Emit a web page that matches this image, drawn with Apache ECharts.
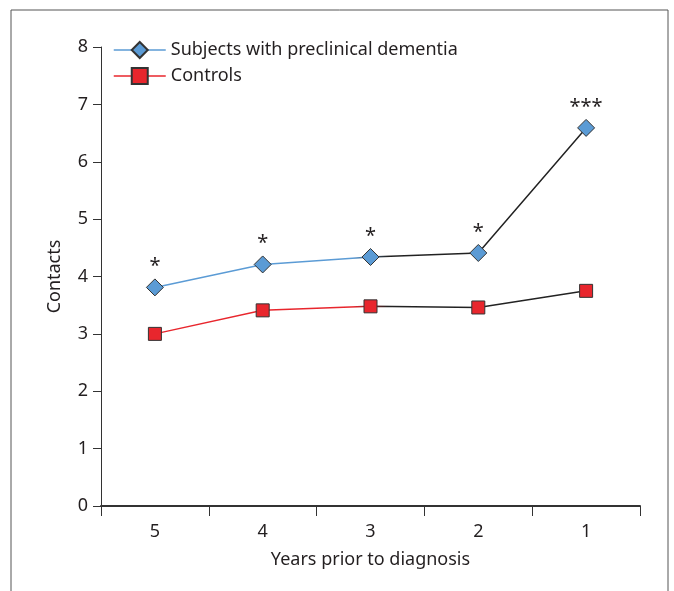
<!DOCTYPE html>
<html><head><meta charset="utf-8">
<script src="https://cdn.jsdelivr.net/npm/echarts@6/dist/echarts.min.js"></script>
<style>html,body{margin:0;padding:0;background:#fff}#c{width:674px;height:591px}</style>
</head><body><div id="c"></div>
<script>
const categories = ['5', '4', '3', '2', '1'];
const dementiaValues = [3.81, 4.21, 4.34, 4.41, 6.59];
const controlValues = [3.0, 3.41, 3.48, 3.46, 3.75];
const significance = ['*', '*', '*', '*', '***'];
const yTicks = [0, 1, 2, 3, 4, 5, 6, 7, 8];

const blue = '#5b9bd5', red = '#e8262d', ink = '#231f20';
function splitGrad(c) {
  return { type: 'linear', x: 0, y: 0, x2: 1, y2: 0, colorStops: [
    { offset: 0, color: c }, { offset: 0.46, color: c }, { offset: 0.54, color: '#222' }, { offset: 1, color: '#222' }] };
}
const font = 'Noto Sans';
const chart = echarts.init(document.getElementById('c'), null, { renderer: 'canvas' });
chart.setOption({
  animation: false,
  textStyle: { fontFamily: font, color: ink },
  graphic: [{ type: 'rect', shape: { x: 11, y: 10, width: 657, height: 620 }, style: { fill: null, stroke: '#555', lineWidth: 1 }, silent: true }],
  grid: { left: 101, right: 34, top: 47, bottom: 85 },
  legend: {
    orient: 'vertical', left: 108, top: 36, itemWidth: 52, itemHeight: 20, itemGap: 8,
    textStyle: { fontSize: 18, color: ink, fontFamily: font },
    data: [
      { name: 'Subjects with preclinical dementia', lineStyle: { color: blue, width: 1.5 } },
      { name: 'Controls', lineStyle: { color: red, width: 1.5 } }
    ]
  },
  xAxis: {
    type: 'category', data: categories, boundaryGap: true,
    name: 'Years prior to diagnosis', nameLocation: 'middle', nameGap: 45,
    nameTextStyle: { fontSize: 18, color: ink, fontFamily: font },
    axisLine: { lineStyle: { color: '#333', width: 2 } },
    axisTick: { show: true, length: 10, lineStyle: { color: '#333', width: 1 } },
    axisLabel: { fontSize: 18, color: ink, margin: 17, fontFamily: font },
    splitLine: { show: false }
  },
  yAxis: {
    type: 'value', min: yTicks[0], max: yTicks[yTicks.length - 1], interval: 1,
    name: 'Contacts', nameLocation: 'middle', nameGap: 37, nameRotate: 90,
    nameTextStyle: { fontSize: 18, color: ink, fontFamily: font },
    axisLine: { show: true, lineStyle: { color: '#333', width: 1 } },
    axisTick: { show: true, length: 8, inside: false, lineStyle: { color: '#333' } },
    axisLabel: { fontSize: 18, color: ink, margin: 13, fontFamily: font },
    splitLine: { show: false }
  },
  series: [
    {
      name: 'Subjects with preclinical dementia', type: 'line', data: dementiaValues,
      symbol: 'diamond', symbolSize: 17, z: 3,
      itemStyle: { color: blue, borderColor: '#333', borderWidth: 1 },
      lineStyle: { color: splitGrad(blue), width: 1.5 },
      label: { show: true, position: 'top', distance: 2, fontSize: 20, color: ink, fontFamily: font,
        formatter: p => significance[p.dataIndex] }
    },
    {
      name: 'Controls', type: 'line', data: controlValues,
      symbol: 'rect', symbolSize: 13, z: 3,
      itemStyle: { color: red, borderColor: '#333', borderWidth: 1 },
      lineStyle: { color: splitGrad(red), width: 1.5 }
    }
  ]
});
</script></body></html>
